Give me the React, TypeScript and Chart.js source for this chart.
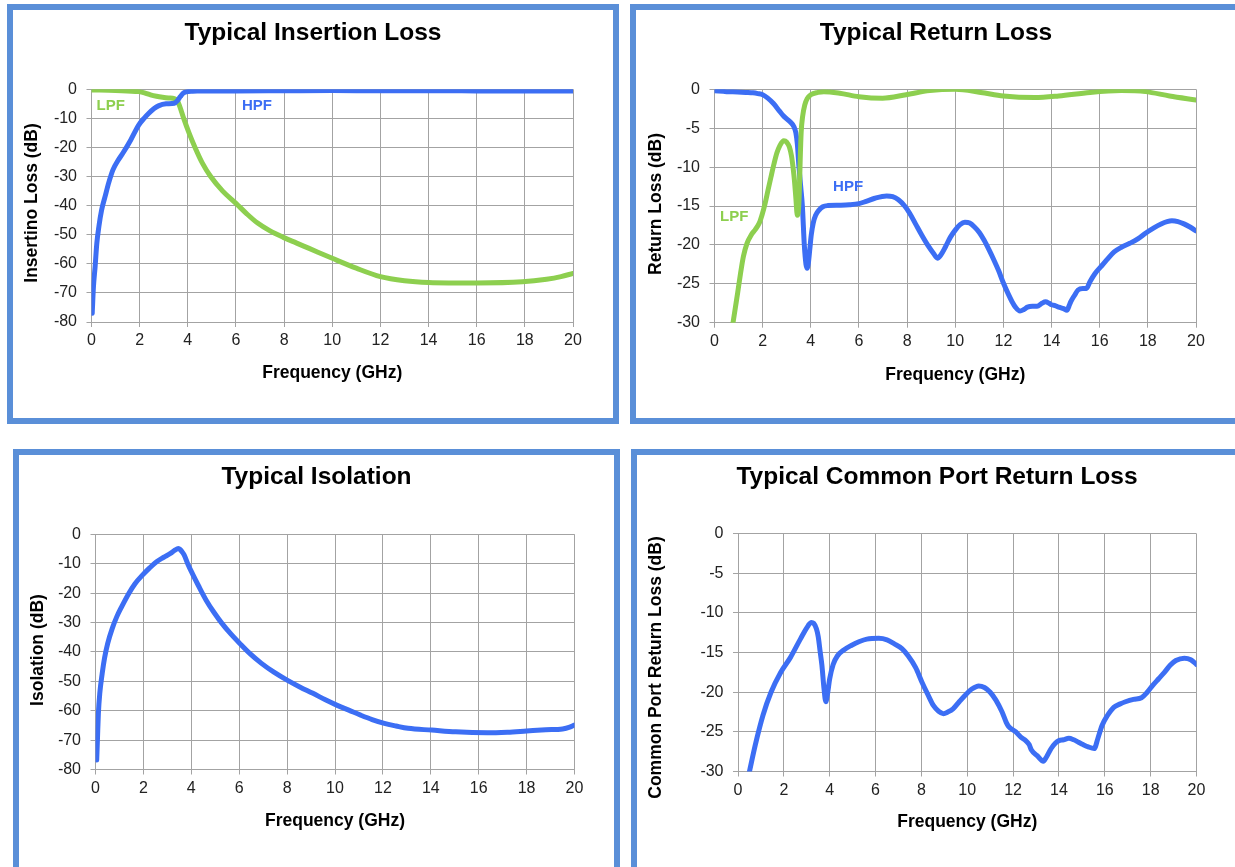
import React, { useEffect, useRef } from 'react';
import { Chart, registerables } from 'chart.js';

Chart.register(...registerables);

const FONT = '"Liberation Sans", Arial, Helvetica, sans-serif';
const BLUE = '#3c6ef4';
const GREEN = '#8dcf4f';
const FRAME = '#5a8fd8';
const FRAME_W = 6;
const GRID = '#a3a3a3';
const TICK = '#222222';

// ---------------- data (frequency in GHz, level in dB) ----------------
const FREQ_MIN = 0;
const FREQ_MAX = 20;
const FREQ_STEP = 2;

// Typical Insertion Loss
const IL_HPF_GHZ = [0.03, 0.08, 0.15, 0.22, 0.31, 0.42, 0.56, 0.72, 0.89, 1.1, 1.3, 1.63, 1.96, 2.2, 2.37, 2.6, 2.78, 3.1, 3.44, 3.58, 3.69, 3.8, 3.93, 4.2, 4.4, 6, 8, 10, 12, 14, 16, 18, 20];
const IL_HPF_DB = [-77, -68, -61, -53, -47, -41.5, -37, -32, -27.7, -24.5, -22, -17.4, -12.3, -9.8, -8.3, -6.6, -5.7, -5.0, -4.8, -3.8, -2.5, -1.4, -0.9, -0.65, -0.6, -0.55, -0.5, -0.45, -0.5, -0.5, -0.55, -0.6, -0.6];
const IL_LPF_GHZ = [0, 1, 1.96, 2.2, 2.45, 2.7, 2.95, 3.2, 3.44, 3.55, 3.65, 3.75, 3.83, 4.05, 4.3, 4.6, 4.95, 5.45, 6, 6.45, 6.9, 7.4, 7.97, 8.5, 9.04, 10, 11, 12, 13, 14, 16, 17.9, 18.9, 19.5, 20];
const IL_LPF_DB = [-0.2, -0.4, -0.8, -1.2, -1.9, -2.4, -2.75, -3.0, -3.2, -3.8, -5.5, -8, -10, -15, -20, -25.3, -30, -35, -39.2, -42.8, -46, -48.6, -50.9, -52.8, -54.7, -58.1, -61.5, -64.4, -65.8, -66.4, -66.6, -66.2, -65.3, -64.4, -63.3];

// Typical Return Loss
const RL_HPF_GHZ = [0, 0.5, 0.96, 1.3, 1.6, 1.8, 2.0, 2.2, 2.44, 2.7, 2.86, 3.0, 3.15, 3.3, 3.38, 3.44, 3.51, 3.58, 3.65, 3.73, 3.8, 3.85, 3.9, 3.96, 4.02, 4.1, 4.2, 4.35, 4.5, 4.7, 5.2, 5.6, 6.0, 6.3, 6.66, 7.15, 7.4, 7.64, 7.9, 8.1, 8.35, 8.6, 8.85, 9.1, 9.26, 9.4, 9.6, 9.8, 10.0, 10.2, 10.4, 10.6, 10.8, 11.0, 11.2, 11.4, 11.6, 11.8, 12.0, 12.2, 12.36, 12.5, 12.69, 12.85, 13.0, 13.2, 13.4, 13.6, 13.75, 13.9, 14.0, 14.15, 14.3, 14.5, 14.64, 14.72, 14.8, 14.95, 15.1, 15.3, 15.45, 15.6, 15.8, 16.05, 16.3, 16.6, 16.9, 17.25, 17.6, 17.9, 18.25, 18.55, 18.8, 19.0, 19.25, 19.5, 19.75, 20];
const RL_HPF_DB = [-0.2, -0.3, -0.35, -0.4, -0.45, -0.55, -0.7, -1.1, -1.8, -2.8, -3.4, -3.8, -4.2, -4.8, -5.6, -7, -10, -12.5, -15, -20, -22.5, -23, -22.3, -20.5, -18.7, -17.2, -16.2, -15.5, -15.1, -14.95, -14.9, -14.85, -14.7, -14.4, -14.0, -13.7, -13.8, -14.2, -15.0, -15.9, -17.3, -18.7, -20.0, -21.1, -21.7, -21.3, -20.2, -19.0, -18.1, -17.4, -17.1, -17.2, -17.7, -18.4, -19.4, -20.6, -21.9, -23.3, -24.9, -26.3, -27.3, -28.0, -28.5, -28.3, -28.0, -27.9, -27.9, -27.5, -27.3, -27.5, -27.7, -27.8, -28.0, -28.2, -28.4, -27.9, -27.3, -26.5, -25.8, -25.6, -25.6, -24.7, -23.7, -22.8, -21.9, -20.9, -20.3, -19.8, -19.2, -18.5, -17.8, -17.3, -17.0, -16.9, -17.0, -17.3, -17.7, -18.2];
const RL_LPF_GHZ = [0.77, 0.87, 0.96, 1.08, 1.2, 1.35, 1.53, 1.7, 1.86, 1.98, 2.1, 2.22, 2.35, 2.47, 2.59, 2.72, 2.88, 3.0, 3.11, 3.2, 3.28, 3.32, 3.38, 3.44, 3.48, 3.52, 3.56, 3.6, 3.66, 3.75, 3.85, 4.0, 4.3, 4.54, 5.2, 6.0, 6.98, 7.96, 8.94, 10.0, 11.06, 12.0, 13.3, 14.3, 15.6, 16.9, 17.9, 18.9, 20];
const RL_LPF_DB = [-30, -28, -26.2, -23.7, -21.5, -19.8, -18.7, -18.0, -17.2, -16.1, -14.7, -13.0, -11.2, -9.6, -8.2, -7.2, -6.6, -6.8, -7.4, -8.6, -10.5, -11.7, -14.0, -16.2, -15.8, -13.5, -9, -5.5, -3.5, -2.0, -1.2, -0.7, -0.4, -0.3, -0.5, -0.95, -1.15, -0.7, -0.17, 0, -0.4, -0.86, -1.07, -0.86, -0.4, -0.17, -0.3, -0.86, -1.37];

// Typical Isolation
const ISO_GHZ = [0.05, 0.08, 0.12, 0.18, 0.28, 0.38, 0.51, 0.7, 0.89, 1.1, 1.39, 1.65, 1.97, 2.25, 2.55, 2.85, 3.13, 3.3, 3.46, 3.55, 3.62, 3.7, 3.85, 4.04, 4.3, 4.62, 4.95, 5.28, 5.65, 6.02, 6.45, 6.93, 7.45, 8.0, 8.55, 9.08, 9.6, 10.07, 10.6, 11.07, 11.55, 12.06, 12.55, 13.05, 14.04, 15.04, 16.36, 17.2, 18.0, 18.8, 19.5, 19.8, 20];
const ISO_DB = [-76.8, -70, -61, -54, -47.3, -42, -37.1, -32, -28, -24.5, -20.1, -16.8, -13.8, -11.5, -9.3, -7.8, -6.5, -5.5, -4.8, -5.3, -6, -7.0, -10, -13.3, -17.5, -22.4, -26.6, -30.3, -33.9, -37.1, -40.6, -43.9, -46.9, -49.6, -52, -54.1, -56.3, -58.1, -59.9, -61.5, -63, -64.3, -65.2, -66, -66.6, -67.2, -67.5, -67.3, -66.9, -66.5, -66.2, -65.6, -64.9];

// Typical Common Port Return Loss
const CPRL_GHZ = [0.5, 0.75, 1.09, 1.44, 1.86, 2.29, 2.72, 3.06, 3.2, 3.3, 3.42, 3.5, 3.58, 3.66, 3.75, 3.83, 3.9, 4.0, 4.15, 4.34, 4.6, 4.94, 5.3, 5.62, 6.14, 6.5, 6.82, 7.15, 7.42, 7.75, 8.02, 8.3, 8.53, 8.75, 8.96, 9.15, 9.38, 9.65, 9.9, 10.2, 10.5, 10.75, 11.0, 11.25, 11.52, 11.7, 11.8, 12.12, 12.35, 12.55, 12.7, 12.8, 13.05, 13.32, 13.45, 13.66, 13.85, 14.0, 14.2, 14.43, 14.65, 14.85, 15.05, 15.28, 15.54, 15.7, 15.88, 16.1, 16.39, 16.65, 16.9, 17.25, 17.6, 17.85, 18.1, 18.35, 18.6, 18.85, 19.1, 19.47, 19.75, 20];
const CPRL_DB = [-30, -26.7, -22.9, -20, -17.5, -15.6, -13.3, -11.6, -11.2, -11.3, -12, -13, -14.8, -16.6, -19.5, -21.2, -20.3, -18.3, -16.5, -15.4, -14.7, -14.1, -13.6, -13.3, -13.2, -13.4, -13.9, -14.5, -15.4, -16.9, -18.7, -20.4, -21.7, -22.4, -22.7, -22.5, -22.1, -21.2, -20.4, -19.6, -19.2, -19.4, -20, -21, -22.5, -23.8, -24.3, -25, -25.7, -26.1, -26.6, -27.3, -28, -28.7, -28.2, -27.1, -26.4, -26.1, -26.0, -25.8, -26.0, -26.3, -26.6, -26.9, -27.1, -25.8, -24.2, -23.0, -21.9, -21.5, -21.2, -20.9, -20.7, -20, -19.1, -18.3, -17.5, -16.6, -16, -15.7, -15.9, -16.5];

// annotation anchors (GHz, dB)
const IL_LPF_NOTE = [0.8, -5.7];
const IL_HPF_NOTE = [6.87, -5.7];
const RL_HPF_NOTE = [5.55, -12.6];
const RL_LPF_NOTE = [0.82, -16.4];

// ---------------- layout ----------------
type Series = { name: string; ghz: number[]; db: number[]; color: string };
type Note = { text: string; at: number[]; color: string };
type Spec = {
  id: string;
  title: string;
  yLabel: string;
  yMin: number;
  yStep: number;
  series: Series[];
  notes: Note[];
  box: { x: number; y: number; w: number; h: number };
  plot: { left: number; right: number; top: number; bottom: number };
  titleY: number;
  xTitleY: number;
  yTitle: { x: number; y: number };
};

const SPECS: Spec[] = [
  {
    id: 'il',
    title: 'Typical Insertion Loss',
    yLabel: 'Insertino Loss (dB)',
    yMin: -80,
    yStep: 10,
    series: [
      { name: 'HPF', ghz: IL_HPF_GHZ, db: IL_HPF_DB, color: BLUE },
      { name: 'LPF', ghz: IL_LPF_GHZ, db: IL_LPF_DB, color: GREEN },
    ],
    notes: [
      { text: 'LPF', at: IL_LPF_NOTE, color: GREEN },
      { text: 'HPF', at: IL_HPF_NOTE, color: BLUE },
    ],
    box: { x: 7, y: 4, w: 612, h: 420 },
    plot: { left: 91.5, right: 573, top: 89.3, bottom: 322 },
    titleY: 33,
    xTitleY: 373.5,
    yTitle: { x: 32, y: 203 },
  },
  {
    id: 'rl',
    title: 'Typical Return Loss',
    yLabel: 'Return Loss (dB)',
    yMin: -30,
    yStep: 5,
    series: [
      { name: 'LPF', ghz: RL_LPF_GHZ, db: RL_LPF_DB, color: GREEN },
      { name: 'HPF', ghz: RL_HPF_GHZ, db: RL_HPF_DB, color: BLUE },
    ],
    notes: [
      { text: 'HPF', at: RL_HPF_NOTE, color: BLUE },
      { text: 'LPF', at: RL_LPF_NOTE, color: GREEN },
    ],
    box: { x: 630, y: 4, w: 612, h: 420 },
    plot: { left: 714.5, right: 1196, top: 89.3, bottom: 322.7 },
    titleY: 33,
    xTitleY: 375,
    yTitle: { x: 656, y: 204 },
  },
  {
    id: 'iso',
    title: 'Typical Isolation',
    yLabel: 'Isolation (dB)',
    yMin: -80,
    yStep: 10,
    series: [{ name: 'Isolation', ghz: ISO_GHZ, db: ISO_DB, color: BLUE }],
    notes: [],
    box: { x: 13, y: 449, w: 607, h: 430 },
    plot: { left: 95.5, right: 574.5, top: 534.3, bottom: 769.5 },
    titleY: 477.5,
    xTitleY: 821.5,
    yTitle: { x: 38, y: 650 },
  },
  {
    id: 'cprl',
    title: 'Typical Common Port Return Loss',
    yLabel: 'Common Port Return Loss (dB)',
    yMin: -30,
    yStep: 5,
    series: [{ name: 'Common Port', ghz: CPRL_GHZ, db: CPRL_DB, color: BLUE }],
    notes: [],
    box: { x: 631, y: 449, w: 612, h: 430 },
    plot: { left: 738, right: 1196.5, top: 533.7, bottom: 771.5 },
    titleY: 477,
    xTitleY: 822.5,
    yTitle: { x: 656, y: 667.5 },
  },
];

const TITLE_SIZE = 24.5;
const AXIS_TITLE_SIZE = 17.5;
const TICK_SIZE = 16;
const NOTE_SIZE = 15;

const panelText = {
  id: 'panelText',
  afterDraw(chart: any, _args: any, opts: any) {
    const { ctx } = chart;
    if (opts.yTitle) {
      ctx.save();
      ctx.translate(opts.yTitle.x, opts.yTitle.y);
      ctx.rotate(-Math.PI / 2);
      ctx.font = `bold ${AXIS_TITLE_SIZE}px ${FONT}`;
      ctx.fillStyle = '#000';
      ctx.textAlign = 'center';
      ctx.textBaseline = 'middle';
      ctx.fillText(opts.yTitle.text, 0, 0);
      ctx.restore();
    }
    const notes = opts.notes || [];
    for (let i = 0; i < notes.length; i++) {
      const n = notes[i];
      const px = chart.scales.x.getPixelForValue(n.at[0]);
      const py = chart.scales.y.getPixelForValue(n.at[1]);
      ctx.save();
      ctx.font = `bold ${NOTE_SIZE}px ${FONT}`;
      ctx.fillStyle = n.color;
      ctx.textAlign = 'center';
      ctx.textBaseline = 'middle';
      ctx.fillText(n.text, px, py);
      ctx.restore();
    }
  },
};

function buildConfig(s: Spec): any {
  const cl = s.box.x + FRAME_W;
  const ct = s.box.y + FRAME_W;
  const cw = s.box.w - 2 * FRAME_W;
  const ch = s.box.h - 2 * FRAME_W;
  const titleLH = TITLE_SIZE * 1.2;
  const axLH = AXIS_TITLE_SIZE * 1.2;
  const padR = cl + cw - s.plot.right;
  const yW = s.plot.left - cl - padR;
  const tTop = s.titleY - ct - titleLH / 2;
  const tBot = s.plot.top - ct - tTop - titleLH;
  const xBottom = s.xTitleY + axLH / 2;
  const xH = xBottom - s.plot.bottom;
  const padB = ct + ch - xBottom;

  return {
    type: 'line',
    data: {
      datasets: s.series.map((se) => ({
        label: se.name,
        data: se.ghz.map((g, i) => ({ x: g, y: se.db[i] })),
        borderColor: se.color,
        backgroundColor: se.color,
        borderWidth: 5,
        pointRadius: 0,
        cubicInterpolationMode: 'monotone',
        borderCapStyle: 'round',
        borderJoinStyle: 'round',
        fill: false,
      })),
    },
    options: {
      responsive: false,
      animation: false,
      events: [],
      layout: { padding: { left: padR, right: padR, top: 0, bottom: padB } },
      plugins: {
        legend: { display: false },
        tooltip: { enabled: false },
        title: {
          display: true,
          text: s.title,
          color: '#000',
          font: { family: FONT, size: TITLE_SIZE, weight: 'bold', lineHeight: 1.2 },
          padding: { top: tTop, bottom: tBot },
        },
        panelText: {
          yTitle: { x: s.yTitle.x - cl, y: s.yTitle.y - ct, text: s.yLabel },
          notes: s.notes,
        },
      },
      scales: {
        x: {
          type: 'linear',
          min: FREQ_MIN,
          max: FREQ_MAX,
          ticks: {
            stepSize: FREQ_STEP,
            autoSkip: false,
            maxRotation: 0,
            color: TICK,
            padding: 4.4,
            font: { family: FONT, size: TICK_SIZE },
          },
          grid: { color: GRID, lineWidth: 1, tickLength: 5 },
          border: { color: GRID, width: 1 },
          title: {
            display: true,
            text: 'Frequency (GHz)',
            color: '#000',
            padding: 0,
            font: { family: FONT, size: AXIS_TITLE_SIZE, weight: 'bold', lineHeight: 1.2 },
          },
          afterFit: (scale: any) => {
            scale.height = xH;
          },
        },
        y: {
          type: 'linear',
          min: s.yMin,
          max: 0,
          ticks: {
            stepSize: s.yStep,
            color: TICK,
            padding: 9.5,
            font: { family: FONT, size: TICK_SIZE },
          },
          grid: { color: GRID, lineWidth: 1, tickLength: 5 },
          border: { color: GRID, width: 1 },
          afterFit: (scale: any) => {
            scale.width = yW;
          },
        },
      },
    },
    plugins: [panelText],
  };
}

function Panel({ spec }: { spec: Spec }) {
  const ref = useRef<HTMLCanvasElement | null>(null);
  const cw = spec.box.w - 2 * FRAME_W;
  const ch = spec.box.h - 2 * FRAME_W;
  useEffect(() => {
    if (!ref.current) return;
    const chart = new Chart(ref.current, buildConfig(spec));
    return () => chart.destroy();
  }, [spec]);
  return (
    <div
      style={{
        position: 'absolute',
        left: spec.box.x,
        top: spec.box.y,
        width: spec.box.w,
        height: spec.box.h,
        border: `${FRAME_W}px solid ${FRAME}`,
        boxSizing: 'border-box',
        background: '#fff',
      }}
    >
      <canvas ref={ref} width={cw} height={ch} style={{ display: 'block', width: cw, height: ch }} />
    </div>
  );
}

export default function App() {
  return (
    <div
      style={{
        position: 'fixed',
        left: 0,
        top: 0,
        width: 1235,
        height: 867,
        overflow: 'hidden',
        background: '#fff',
      }}
    >
      {SPECS.map((s) => (
        <Panel key={s.id} spec={s} />
      ))}
    </div>
  );
}
